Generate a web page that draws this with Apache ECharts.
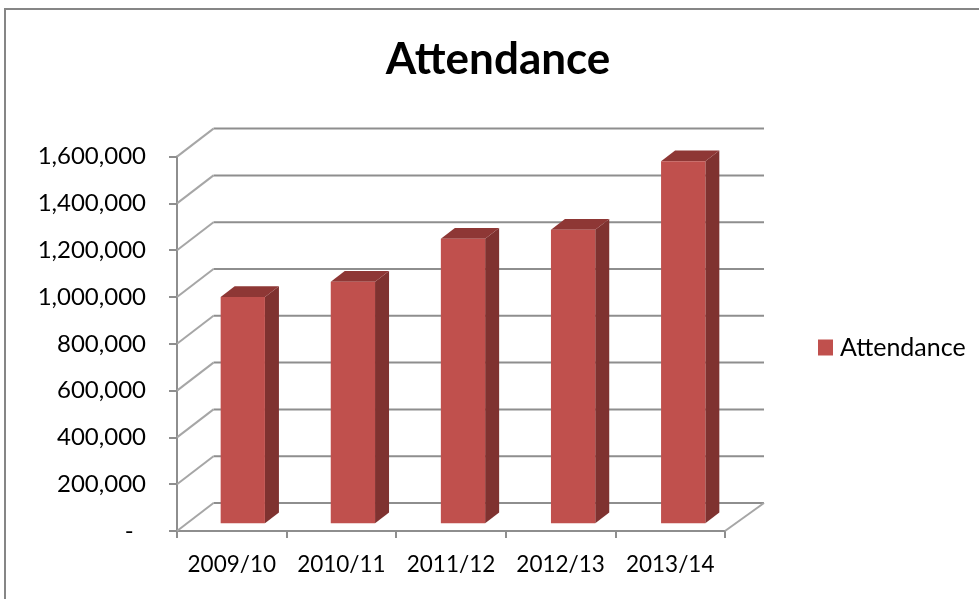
<!DOCTYPE html>
<html><head><meta charset="utf-8">
<script src="https://cdn.jsdelivr.net/npm/echarts@6/dist/echarts.min.js"></script>
<style>html,body{margin:0;padding:0;background:#fff}#c{width:979px;height:599px}</style>
</head><body><div id="c"></div>
<script>
const categories = ['2009/10','2010/11','2011/12','2012/13','2013/14'];
const attendance = [967000,1032000,1216000,1255000,1547000];
const yTicks = [0,200000,400000,600000,800000,1000000,1200000,1400000,1600000];
const FONT = 'Lato';
const GRID = '#8e8e8e';
const DIAG = '#a6a6a6';
const WALL = [36.5,-28];      // depth of the 3D floor, px
const WALL_RIGHT = 39;
const BAR_SHIFT = [11,-7.7];  // front of bar relative to front plane, px
const BAR_DEPTH = [14,-10.7];
const BAR_RATIO = 0.404;
const BAR_DRIFT = 0.5;

function wallItem(params, api){
  const left = api.coord([0, api.value(0)]);
  const band = api.size([1,0])[0];
  const x0 = left[0]-band/2, y0 = left[1];
  const x1 = x0 + band*categories.length;
  const children = [
    {type:'polyline',shape:{points:[[x0+WALL[0],y0+WALL[1]],[x1+WALL_RIGHT,y0+WALL[1]]]},style:{fill:null,stroke:GRID,lineWidth:2}},
    {type:'polyline',shape:{points:[[x0,y0],[x0+WALL[0],y0+WALL[1]]]},style:{fill:null,stroke:DIAG,lineWidth:2}}
  ];
  if(api.value(0)===0){
    children.push({type:'polyline',shape:{points:[[x1,y0],[x1+WALL_RIGHT,y0+WALL[1]]]},style:{fill:null,stroke:DIAG,lineWidth:2}});
  }
  return {type:'group',children};
}
function barItem(params, api){
  const idx = api.value(0), v = api.value(1);
  const top = api.coord([idx,v]), base = api.coord([idx,0]);
  const w = api.size([1,0])[0]*BAR_RATIO;
  const xl = top[0]-w/2+BAR_SHIFT[0]+BAR_DRIFT*idx, xr = xl+w;
  const yt = top[1]+BAR_SHIFT[1], yb = base[1]+BAR_SHIFT[1];
  const dx = BAR_DEPTH[0], dy = BAR_DEPTH[1];
  return {type:'group',children:[
    {type:'polygon',shape:{points:[[xr,yt],[xr+dx,yt+dy],[xr+dx,yb+dy],[xr,yb]]},style:{fill:'#7f3230'}},
    {type:'polygon',shape:{points:[[xl,yt],[xl+dx,yt+dy],[xr+dx,yt+dy],[xr,yt]]},style:{fill:'#8e3735'}},
    {type:'rect',shape:{x:xl,y:yt,width:w,height:yb-yt},style:{fill:'#c0504d'}}
  ]};
}
const chart = echarts.init(document.getElementById('c'),null,{renderer:'canvas'});
chart.setOption({
  animation:false,
  backgroundColor:'#fff',
  title:{text:'Attendance',left:498,top:38,textAlign:'center',padding:0,
    textStyle:{fontFamily:FONT,fontSize:44,fontWeight:'bold',color:'#000'}},
  legend:{show:true,left:818,top:335,padding:0,itemWidth:15,itemHeight:16,itemGap:0,
    data:[{name:'Attendance',icon:'rect',itemStyle:{color:'#c0504d'}}],
    textStyle:{fontFamily:FONT,fontSize:25,color:'#000',padding:[0,0,0,2]}},
  grid:{left:177,top:156.6,width:548,height:374.4},
  xAxis:{type:'category',data:categories,boundaryGap:true,
    axisLine:{lineStyle:{color:GRID,width:2}},
    axisTick:{show:true,alignWithLabel:false,length:7,lineStyle:{color:GRID,width:2}},
    axisLabel:{fontFamily:FONT,fontSize:22.5,color:'#000',margin:22,interval:0},
    splitLine:{show:false}},
  yAxis:{type:'value',min:0,max:1600000,interval:200000,
    axisLine:{show:true,lineStyle:{color:GRID,width:2}},
    axisTick:{show:true,length:8,lineStyle:{color:GRID,width:2}},
    axisLabel:{fontFamily:FONT,fontSize:24,color:'#000',margin:31,
      formatter:v=>v===0?'-\u00a0\u00a0':v.toLocaleString('en-US')},
    splitLine:{show:false}},
  series:[
    {type:'custom',name:'wall',silent:true,legendHoverLink:false,z:1,clip:false,
     data:yTicks.map(v=>[v]),encode:{y:0},renderItem:wallItem},
    {type:'custom',name:'Attendance',z:3,clip:false,
     data:attendance.map((v,i)=>[i,v]),encode:{x:0,y:1},renderItem:barItem}
  ],
  graphic:[{type:'polyline',z:-1,silent:true,shape:{points:[[5,599],[5,9],[979,9]]},style:{fill:null,stroke:'#868686',lineWidth:2}}]
});
</script></body></html>
